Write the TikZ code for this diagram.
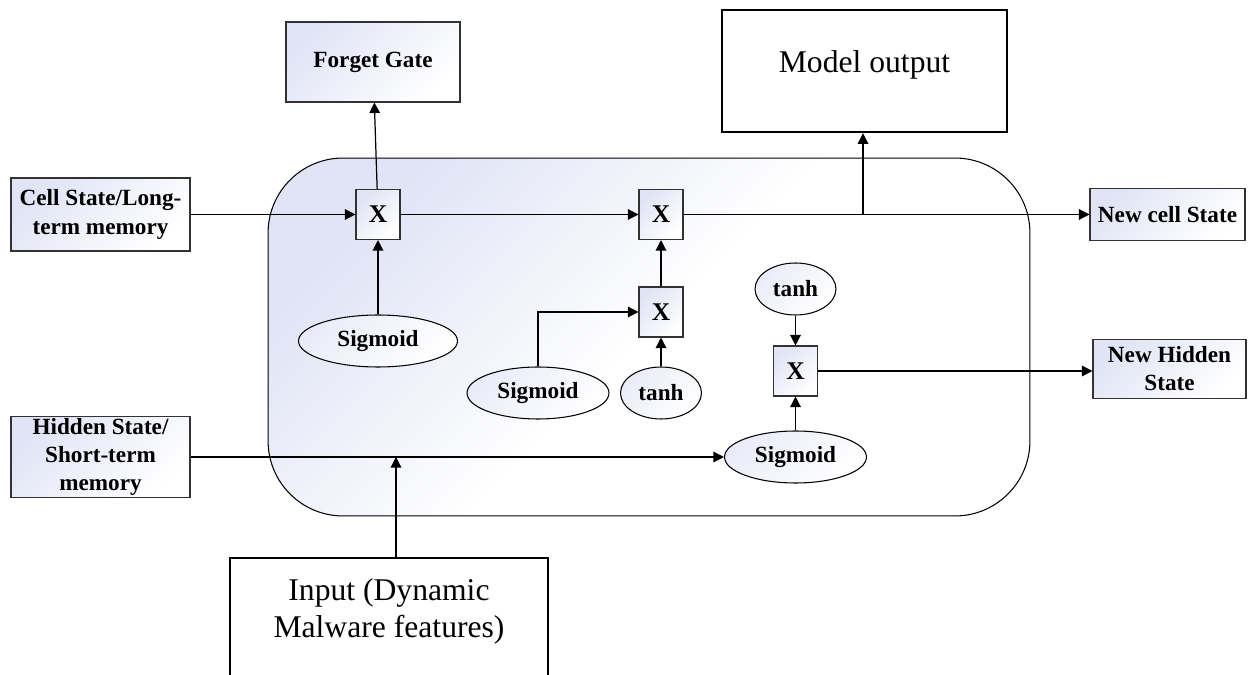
\documentclass[tikz,border=0pt]{standalone}
\usepackage{fontspec}
\setmainfont{Liberation Serif}
\usetikzlibrary{positioning,arrows.meta,shapes.geometric}
\definecolor{lav}{RGB}{224,228,245}
\definecolor{edge}{RGB}{50,50,50}
\tikzset{
  shadefill/.style={top color=lav, bottom color=white, shading angle=45},
  statebox/.style={draw=edge, line width=0.6pt, shadefill, inner sep=1pt, align=center,
                   font=\bfseries\fontsize{13.2}{16}\selectfont},
  gatebox/.style={draw=edge, line width=0.6pt, shadefill, minimum width=0.88cm,
                  minimum height=1cm, inner sep=0pt, font=\bfseries\fontsize{14.5}{15}\selectfont},
  actnode/.style={ellipse, draw, line width=0.6pt, top color=lav!70, bottom color=white,
                  shading angle=45, inner sep=0pt, minimum height=1.04cm,
                  font=\bfseries\fontsize{13.2}{14}\selectfont},
  bigbox/.style={draw, line width=1.4pt, inner sep=0pt},
  bigtext/.style={inner sep=0pt, align=center, font=\fontsize{18}{21}\selectfont},
  arrow/.style={-{Triangle[length=6pt,width=6pt]}, line width=0.7pt},
}

\begin{document}
\begin{tikzpicture}[x=0.02cm, y=-0.02cm]
  \useasboundingbox (0,0) rectangle (1252,675);

  % the cell itself
  \node[draw, line width=0.6pt, rounded corners=1.5cm, shadefill, middle color=white,
        minimum width=15.24cm, minimum height=7.16cm] (lstm) at (649,337) {};

  % states in and out
  \node[statebox, minimum width=3.58cm, minimum height=1.46cm] (cellin) at (100.5,214.5) {Cell State/Long-\\term memory};
  \node[statebox, minimum width=3.58cm, minimum height=1.46cm] (hiddenin) at (100.5,457) {Hidden State/\\Short-term\\memory};
  \node[statebox, minimum width=3.48cm, minimum height=1.6cm] (forget) at (373,62) {Forget Gate};
  \node[statebox, minimum width=3.1cm, minimum height=1.04cm] (cellout) at (1167.5,214.5) {New cell State};
  \node[statebox, minimum width=3.06cm, minimum height=1.18cm] (hiddenout) at (1169.5,369) {New Hidden\\State};

  % multiplications
  \node[gatebox] (xforget) at (378,214.5) {X};
  \node[gatebox] (xkeep) at (661,214.5) {X};
  \node[gatebox] (xinput) at (661,312) {X};
  \node[gatebox] (xout) at (795.5,371) {X};

  % activations
  \node[actnode, minimum width=3.18cm] (sigf) at (378,341) {Sigmoid};
  \node[actnode, minimum width=2.84cm] (sigi) at (538,393) {Sigmoid};
  \node[actnode, minimum width=1.62cm] (tanhi) at (661,393) {tanh};
  \node[actnode, minimum width=1.62cm] (tanho) at (795.5,289) {tanh};
  \node[actnode, minimum width=2.84cm] (sigo) at (795.5,457) {Sigmoid};

  % model output and input
  \node[bigbox, minimum width=5.7cm, minimum height=2.44cm] (model) at (864.5,71) {};
  \node[bigtext, below=0.82cm of model.north] (modeltext) {Model output};
  \node[bigbox, anchor=north, minimum width=6.36cm, minimum height=3cm] (input) at (389,557) {};
  \node[bigtext, below=0.42cm of input.north] (inputtext) {Input (Dynamic\\Malware features)};

  \coordinate (tap) at (863,214.5);
  \coordinate (join) at (396,457);

  \draw[arrow] (cellin) -- (xforget);
  \draw[arrow] (xforget) -- (xkeep);
  \draw[arrow] (xkeep) -- (cellout);
  \draw[arrow] (tap) -- (tap |- model.south);
  \draw[arrow] (xforget) -- (forget);
  \draw[arrow] (sigf) -- (xforget);
  \draw[arrow] (sigi.north) |- (xinput);
  \draw[arrow] (tanhi) -- (xinput);
  \draw[arrow] (xinput) -- (xkeep);
  \draw[arrow] (tanho) -- (xout);
  \draw[arrow] (sigo) -- (xout);
  \draw[arrow] (xout) -- (xout -| hiddenout.west);
  \draw[arrow] (hiddenin) -- (sigo);
  \draw[arrow] (join |- input.north) -- (join);
\end{tikzpicture}
\end{document}
